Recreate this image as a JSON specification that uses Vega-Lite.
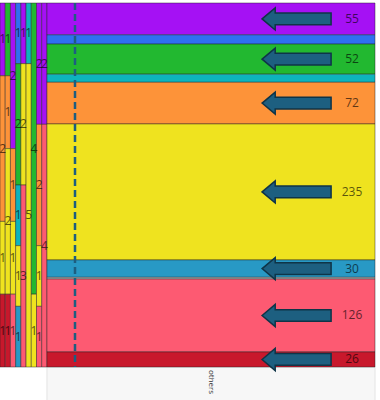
{
  "$schema": "https://vega.github.io/schema/vega-lite/v6.json",
  "width": 375,
  "height": 364,
  "autosize": {"type": "none"},
  "padding": {"left": 0, "top": 3, "right": 5, "bottom": 33},
  "background": "white",
  "config": {"view": {"stroke": null}},
  "data": {"values": [
    {"col": "c1", "seg": "violet", "value": 1},
    {"col": "c1", "seg": "orange", "value": 2},
    {"col": "c1", "seg": "yellow", "value": 1},
    {"col": "c1", "seg": "red", "value": 1},
    {"col": "c2", "seg": "green", "value": 1},
    {"col": "c2", "seg": "orange", "value": 1},
    {"col": "c2", "seg": "yellow", "value": 2},
    {"col": "c2", "seg": "red", "value": 1},
    {"col": "c3", "seg": "violet", "value": 2},
    {"col": "c3", "seg": "orange", "value": 1},
    {"col": "c3", "seg": "yellow", "value": 1},
    {"col": "c3", "seg": "pink", "value": 1},
    {"col": "c4", "seg": "blue", "value": 1},
    {"col": "c4", "seg": "green", "value": 2},
    {"col": "c4", "seg": "teal", "value": 1},
    {"col": "c4", "seg": "yellow", "value": 1},
    {"col": "c4", "seg": "cyan", "value": 1},
    {"col": "c5", "seg": "violet", "value": 1},
    {"col": "c5", "seg": "yellow", "value": 2},
    {"col": "c5", "seg": "pink", "value": 3},
    {"col": "c6", "seg": "teal", "value": 1},
    {"col": "c6", "seg": "yellow", "value": 5},
    {"col": "c7", "seg": "green", "value": 4},
    {"col": "c7", "seg": "yellow", "value": 1},
    {"col": "c8", "seg": "violet", "value": 2},
    {"col": "c8", "seg": "orange", "value": 2},
    {"col": "c8", "seg": "yellow", "value": 1},
    {"col": "c8", "seg": "pink", "value": 1},
    {"col": "c9", "seg": "violet", "value": 2},
    {"col": "c9", "seg": "pink", "value": 4},
    {"col": "others", "seg": "violet", "value": 55},
    {"col": "others", "seg": "blue", "value": 16},
    {"col": "others", "seg": "green", "value": 52},
    {"col": "others", "seg": "teal", "value": 14},
    {"col": "others", "seg": "orange", "value": 72},
    {"col": "others", "seg": "yellow", "value": 235},
    {"col": "others", "seg": "cyan", "value": 30},
    {"col": "others", "seg": "gray", "value": 3},
    {"col": "others", "seg": "pink", "value": 126},
    {"col": "others", "seg": "red", "value": 26}
  ]},
  "transform": [
    {"calculate": "indexof(['violet','blue','green','teal','orange','yellow','cyan','gray','pink','red'], datum.seg)", "as": "ord"},
    {"joinaggregate": [{"op": "sum", "field": "value", "as": "total"}], "groupby": ["col"]},
    {"calculate": "datum.value * max(datum.total, 10) / datum.total", "as": "wx"},
    {"stack": "wx", "groupby": [], "sort": [{"field": "col", "order": "ascending"}, {"field": "ord", "order": "ascending"}], "offset": "normalize", "as": ["sx0", "sx1"]},
    {"joinaggregate": [{"op": "min", "field": "sx0", "as": "x0"}, {"op": "max", "field": "sx1", "as": "x1"}], "groupby": ["col"]},
    {"stack": "value", "groupby": ["col"], "sort": [{"field": "ord", "order": "descending"}], "offset": "normalize", "as": ["y0", "y1"]},
    {"calculate": "datum.y1 - datum.y0", "as": "h"},
    {"calculate": "(datum.y0 + datum.y1) / 2", "as": "ym"},
    {"calculate": "datum.col == 'others' ? datum.x0 + 0.93 * (datum.x1 - datum.x0) : (datum.x0 + datum.x1) / 2", "as": "xl"},
    {"calculate": "datum.x0 + 0.761 * (datum.x1 - datum.x0)", "as": "xa"}
  ],
  "layer": [
    {
      "transform": [
        {"filter": "datum.col == 'others'"},
        {"aggregate": [{"op": "min", "field": "x0", "as": "a"}, {"op": "max", "field": "x1", "as": "b"}], "groupby": ["col"]}
      ],
      "mark": {"type": "rect", "fill": "#f7f7f7", "stroke": "#e4e4e4", "strokeWidth": 1},
      "encoding": {
        "x": {"field": "a", "type": "quantitative", "scale": {"domain": [0, 1], "nice": false, "zero": false}, "axis": null},
        "x2": {"field": "b"},
        "y": {"datum": 0, "type": "quantitative", "scale": {"domain": [0, 1], "nice": false, "zero": false}, "axis": null},
        "y2": {"datum": -0.1}
      }
    },
    {
      "mark": {"type": "rect", "stroke": "#222222", "strokeWidth": 1, "strokeOpacity": 0.45},
      "encoding": {
        "x": {"field": "x0", "type": "quantitative"},
        "x2": {"field": "x1"},
        "y": {"field": "y0", "type": "quantitative"},
        "y2": {"field": "y1"},
        "color": {
          "field": "seg", "type": "nominal", "legend": null,
          "scale": {
            "domain": ["violet", "blue", "green", "teal", "orange", "yellow", "cyan", "gray", "pink", "red"],
            "range": ["#a511f4", "#2f6ff0", "#22b830", "#0db4be", "#fd9339", "#efe31f", "#2899c5", "#bdbdbd", "#fd5a72", "#c8182c"]
          }
        }
      }
    },
    {
      "transform": [{"aggregate": [{"op": "count", "as": "n"}]}],
      "mark": {"type": "rule", "strokeDash": [7, 4], "strokeWidth": 2.5, "color": "#1d5e80"},
      "encoding": {"x": {"datum": 0.2, "type": "quantitative"}}
    },
    {
      "transform": [{"filter": "datum.col == 'others' && datum.h > 0.035"}],
      "mark": {
        "type": "point",
        "shape": "M-1,0L-0.62,-0.32L-0.62,-0.17L1,-0.17L1,0.17L-0.62,0.17L-0.62,0.32Z",
        "size": 4761, "filled": true, "fill": "#1d5f80", "stroke": "#0f3447", "strokeWidth": 1.5, "opacity": 1, "fillOpacity": 1
      },
      "encoding": {
        "x": {"field": "xa", "type": "quantitative"},
        "y": {"field": "ym", "type": "quantitative"}
      }
    },
    {
      "transform": [{"filter": "datum.h > 0.035"}],
      "mark": {"type": "text", "font": "Open Sans", "fontSize": 12, "color": "#000000", "opacity": 0.62, "align": "center", "baseline": "middle"},
      "encoding": {
        "x": {"field": "xl", "type": "quantitative"},
        "y": {"field": "ym", "type": "quantitative"},
        "text": {"field": "value", "type": "quantitative"}
      }
    },
    {
      "transform": [
        {"filter": "datum.col == 'others'"},
        {"aggregate": [{"op": "min", "field": "x0", "as": "a"}, {"op": "max", "field": "x1", "as": "b"}], "groupby": ["col"]},
        {"calculate": "(datum.a + datum.b) / 2", "as": "xm"}
      ],
      "mark": {"type": "text", "font": "Open Sans", "fontSize": 8, "color": "#333333", "angle": 90, "align": "left", "baseline": "middle", "yOffset": 3},
      "encoding": {
        "x": {"field": "xm", "type": "quantitative"},
        "y": {"datum": 0, "type": "quantitative"},
        "text": {"field": "col", "type": "nominal"}
      }
    }
  ]
}
